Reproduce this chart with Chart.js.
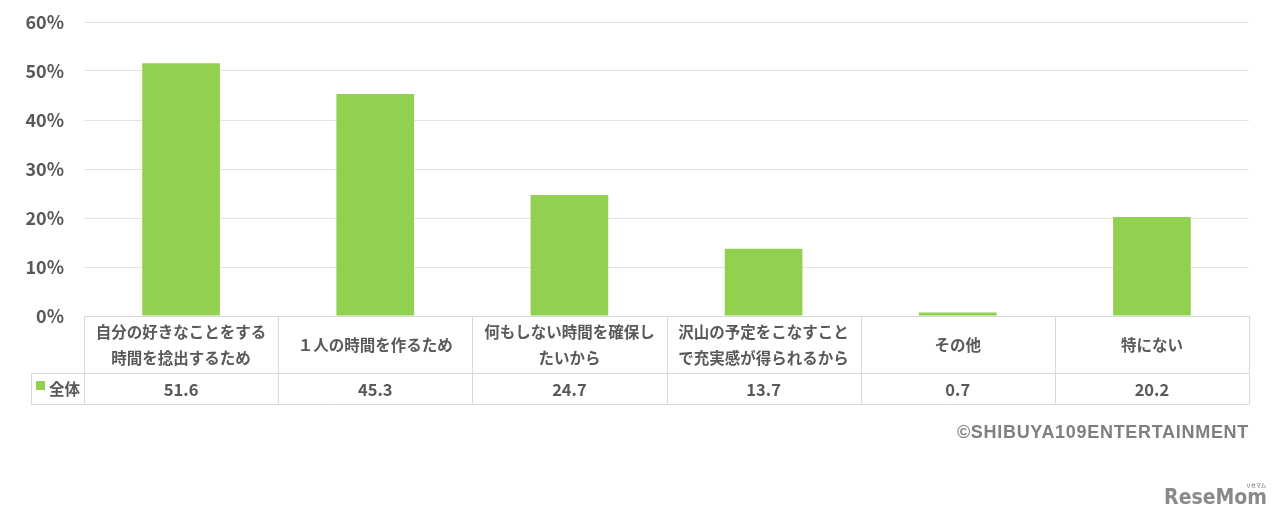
<!DOCTYPE html>
<html>
<head>
<meta charset="utf-8">
<script src="https://cdn.jsdelivr.net/npm/chart.js@4/dist/chart.umd.min.js"></script>
<style>
  html, body { margin: 0; padding: 0; background: #ffffff; }
  #wrap { position: relative; width: 1280px; height: 523px; }
  canvas { display: block; }
</style>
</head>
<body>
<div id="wrap"><canvas id="c" width="1280" height="523"></canvas></div>
<script>
// ---- data ----
const categories = [
  ["自分の好きなことをする", "時間を捻出するため"],
  ["１人の時間を作るため"],
  ["何もしない時間を確保し", "たいから"],
  ["沢山の予定をこなすこと", "で充実感が得られるから"],
  ["その他"],
  ["特にない"]
];
const seriesName = "全体";
const values = [51.6, 45.3, 24.7, 13.7, 0.7, 20.2];
const valueLabels = ["51.6", "45.3", "24.7", "13.7", "0.7", "20.2"];
const yTicks = [0, 10, 20, 30, 40, 50, 60];
const credit = "©SHIBUYA109ENTERTAINMENT";
const logoText = "ReseMom";

// ---- style ----
const BAR = "#92d050";
const TEXT = "#595959";
const GRID = "#e3e3e3";
const BORDER = "#d9d9d9";
const FONT = "'Noto Sans CJK JP', 'Noto Sans', sans-serif";

const tablePlugin = {
  id: "dataTable",
  afterDraw(chart) {
    const ctx = chart.ctx;
    const ca = chart.chartArea;
    const n = categories.length;
    const colW = (ca.right - ca.left) / n;
    const top = ca.bottom;
    const mid = top + 57;
    const bot = mid + 31;
    const legendLeft = 31;
    ctx.save();
    ctx.strokeStyle = BORDER;
    ctx.lineWidth = 1;
    ctx.beginPath();
    ctx.moveTo(ca.left, top + 0.5); ctx.lineTo(ca.right, top + 0.5);
    ctx.moveTo(legendLeft, mid + 0.5); ctx.lineTo(ca.right, mid + 0.5);
    ctx.moveTo(legendLeft, bot + 0.5); ctx.lineTo(ca.right, bot + 0.5);
    ctx.moveTo(legendLeft + 0.5, mid); ctx.lineTo(legendLeft + 0.5, bot);
    for (let i = 0; i <= n; i++) {
      const x = Math.round(ca.left + i * colW) + 0.5;
      ctx.moveTo(x, top); ctx.lineTo(x, bot);
    }
    ctx.stroke();

    ctx.fillStyle = TEXT;
    ctx.textAlign = "center";
    ctx.textBaseline = "middle";
    ctx.font = "bold 15.5px " + FONT;
    for (let i = 0; i < n; i++) {
      const cx = chart.scales.x.getPixelForValue(i);
      const lines = categories[i];
      const lh = 26;
      const cy = (top + mid) / 2 + 1;
      const y0 = cy - (lines.length - 1) * lh / 2;
      lines.forEach((ln, k) => ctx.fillText(ln, cx, y0 + k * lh));
    }
    ctx.font = "bold 16.5px " + FONT;
    for (let i = 0; i < n; i++) {
      const cx = chart.scales.x.getPixelForValue(i);
      ctx.fillText(valueLabels[i], cx, (mid + bot) / 2 + 1);
    }
    ctx.fillStyle = BAR;
    ctx.fillRect(36, 381, 9, 9);
    ctx.fillStyle = TEXT;
    ctx.textAlign = "left";
    ctx.font = "bold 15.5px " + FONT;
    ctx.fillText(seriesName, 49, (mid + bot) / 2 + 1);

    ctx.fillStyle = "#7f7f7f";
    ctx.textAlign = "right";
    ctx.font = "bold 18px 'Liberation Sans', Arial, sans-serif";
    ctx.letterSpacing = "0.7px";
    ctx.fillText(credit, ca.right, 433);
    ctx.letterSpacing = "0px";

    ctx.fillStyle = "#8a8a8a";
    ctx.font = "bold 21px 'DejaVu Sans Condensed', 'DejaVu Sans', sans-serif";
    ctx.fillText(logoText, 1267, 499);
    ctx.font = "bold 5px " + FONT;
    ctx.textAlign = "center";
    ctx.fillText("リセマム", 1256, 485);
    ctx.restore();
  }
};

new Chart(document.getElementById("c"), {
  type: "bar",
  data: {
    labels: categories.map(c => c.join("")),
    datasets: [{
      label: seriesName,
      data: values,
      backgroundColor: BAR,
      borderWidth: 0,
      categoryPercentage: 1.0,
      barPercentage: 0.4
    }]
  },
  options: {
    responsive: false,
    animation: false,
    devicePixelRatio: 1,
    layout: { padding: { top: 22, right: 31, bottom: 207, left: 0 } },
    plugins: { legend: { display: false }, tooltip: { enabled: false } },
    scales: {
      x: { display: false, offset: true },
      y: {
        min: 0, max: 60,
        afterFit(scale) { scale.width = 84; scale.paddingTop = 0; scale.paddingBottom = 0; },
        afterBuildTicks(scale) { scale.ticks = yTicks.map(v => ({ value: v })); },
        border: { display: false },
        grid: { color: GRID, lineWidth: 1, drawTicks: false },
        ticks: {
          padding: 20,
          color: TEXT,
          font: { family: FONT, size: 18, weight: "bold" },
          callback: v => v + "%"
        }
      }
    }
  },
  plugins: [tablePlugin]
});
</script>
</body>
</html>
